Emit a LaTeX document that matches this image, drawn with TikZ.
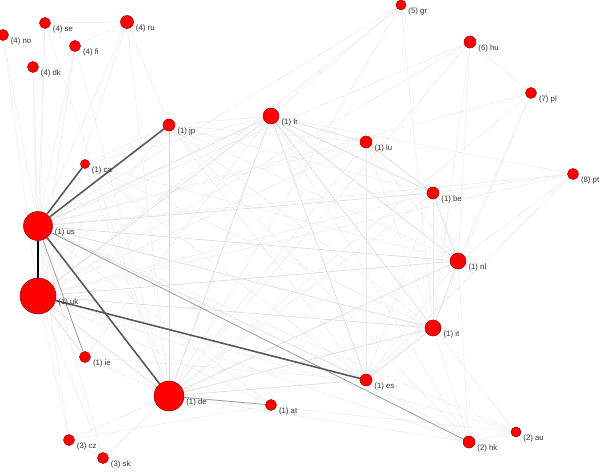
\documentclass[tikz,border=0pt]{standalone}
\usepackage{fontspec}
\setmainfont{Liberation Sans}
\usetikzlibrary{backgrounds}
\definecolor{rimred}{RGB}{150,0,0}
\definecolor{dotred}{RGB}{255,0,0}

\begin{document}
\begin{tikzpicture}[x=1pt,y=-1pt,
    cty/.style={circle,draw=rimred,line width=0.5pt,fill=dotred,inner sep=0pt},
    lbl/.style={font=\fontsize{7.8}{8}\selectfont,text=black!80,inner sep=1pt,yshift=-6pt},
    faint/.style={draw=black!8,line width=0.5pt},
    weak/.style={draw=black!17,line width=0.5pt},
    mid/.style={draw=black!38,line width=0.8pt},
    strong/.style={draw=black!65,line width=1.6pt},
    heavy/.style={draw=black,line width=1.7pt}]
            \useasboundingbox (0,0) rectangle (604,473);
            \begin{scope}[every node/.append style={cty}]
                \node[minimum size=11pt,label={[lbl]east:(4) no}] (no) at (3,35) {};
                \node[minimum size=11pt,label={[lbl]east:(4) se}] (se) at (45,23) {};
                \node[minimum size=11pt,label={[lbl]east:(4) fi}] (fi) at (75,46) {};
                \node[minimum size=13pt,label={[lbl]east:(4) ru}] (ru) at (127,22) {};
                \node[minimum size=11pt,label={[lbl]east:(4) dk}] (dk) at (33,67) {};
                \node[minimum size=12pt,label={[lbl]east:(1) jp}] (jp) at (169,125) {};
                \node[minimum size=9pt,label={[lbl]east:(1) ca}] (ca) at (85,164) {};
                \node[minimum size=29pt,label={[lbl]east:(1) us}] (us) at (38,226) {};
                \node[minimum size=36pt,label={[lbl]east:(1) uk}] (uk) at (38,296) {};
                \node[minimum size=11pt,label={[lbl]east:(1) ie}] (ie) at (85,357) {};
                \node[minimum size=30pt,label={[lbl]east:(1) de}] (de) at (169,396) {};
                \node[minimum size=11pt,label={[lbl]east:(1) at}] (at) at (271,405) {};
                \node[minimum size=11pt,label={[lbl]east:(3) cz}] (cz) at (69,440) {};
                \node[minimum size=11pt,label={[lbl]east:(3) sk}] (sk) at (103,458) {};
                \node[minimum size=10pt,label={[lbl]east:(5) gr}] (gr) at (401,5) {};
                \node[minimum size=12pt,label={[lbl]east:(6) hu}] (hu) at (470,42) {};
                \node[minimum size=11pt,label={[lbl]east:(7) pl}] (pl) at (531,93) {};
                \node[minimum size=16pt,label={[lbl]east:(1) fr}] (fr) at (271,116) {};
                \node[minimum size=12pt,label={[lbl]east:(1) lu}] (lu) at (366,142) {};
                \node[minimum size=11pt,label={[lbl]east:(8) pt}] (pt) at (573,174) {};
                \node[minimum size=12pt,label={[lbl]east:(1) be}] (be) at (433,193) {};
                \node[minimum size=16pt,label={[lbl]east:(1) nl}] (nl) at (458,261) {};
                \node[minimum size=16pt,label={[lbl]east:(1) it}] (it) at (433,328) {};
                \node[minimum size=12pt,label={[lbl]east:(1) es}] (es) at (366,380) {};
                \node[minimum size=12pt,label={[lbl]east:(2) hk}] (hk) at (469,442) {};
                \node[minimum size=10pt,label={[lbl]east:(2) au}] (au) at (516,432) {};
            \end{scope}
            \begin{scope}[on background layer]
            % light links
            \draw (us) edge[weak] (fr) edge[weak] (nl) edge[weak] (it) edge[weak] (be) edge[weak] (es) edge[faint] (lu) edge[faint] (at);
            \draw (us) edge[faint] (no) edge[faint] (se) edge[faint] (dk) edge[faint] (fi) edge[faint] (ru) edge[faint] (gr) edge[faint] (hu);
            \draw (us) edge[faint] (pl) edge[faint] (cz) edge[faint] (sk) edge[faint] (au) edge[faint] (pt);
            \draw (uk) edge[weak] (fr) edge[weak] (nl) edge[weak] (it) edge[weak] (de) edge[weak] (ie) edge[faint] (be) edge[faint] (lu);
            \draw (uk) edge[faint] (jp) edge[faint] (ca) edge[faint] (at) edge[faint] (hk) edge[faint] (au) edge[faint] (no) edge[faint] (se);
            \draw (uk) edge[faint] (dk) edge[faint] (ru) edge[faint] (fi) edge[faint] (cz) edge[faint] (sk) edge[faint] (gr) edge[faint] (hu) edge[faint] (pt);
            \draw (de) edge[weak] (fr) edge[weak] (nl) edge[weak] (it) edge[weak] (jp) edge[weak] (es) edge[faint] (be) edge[faint] (lu);
            \draw (de) edge[faint] (ca) edge[faint] (cz) edge[faint] (sk) edge[faint] (ie) edge[faint] (hu) edge[faint] (pl) edge[faint] (ru);
            \draw (de) edge[faint] (gr) edge[faint] (hk) edge[faint] (au) edge[faint] (fi) edge[faint] (se);
            \draw (fr) edge[weak] (nl) edge[weak] (it) edge[weak] (be) edge[weak] (lu) edge[weak] (es) edge[faint] (jp) edge[faint] (ca);
            \draw (fr) edge[faint] (hk) edge[faint] (gr) edge[faint] (ie) edge[faint] (pt);
            \draw (nl) edge[weak] (be) edge[weak] (it) edge[faint] (lu) edge[faint] (es) edge[faint] (ca) edge[faint] (jp);
            \draw (nl) edge[faint] (pt) edge[faint] (hu) edge[faint] (pl) edge[faint] (hk);
            \draw (it) edge[weak] (es) edge[faint] (be) edge[faint] (lu) edge[faint] (gr) edge[faint] (hk) edge[faint] (hu);
            \draw (it) edge[faint] (jp) edge[faint] (ca) edge[faint] (pl) edge[faint] (au);
            \draw (be) edge[weak] (lu) edge[faint] (es) edge[faint] (pt) edge[faint] (jp);
            \draw (jp) edge[faint] (ca) edge[faint] (lu) edge[faint] (es) edge[faint] (hk) edge[faint] (ru);
            \draw (es) edge[faint] (hk) edge[faint] (pt) edge[faint] (lu) edge[faint] (ca) edge[faint] (ie);
            \draw (ru) edge[faint] (fi) edge[faint] (se);
            \draw (cz) edge[faint] (sk) edge[faint] (at);
            \draw (pl) edge[faint] (hu);
            \draw (hk) edge[faint] (au);
            % strong links
            \draw (us) edge[mid] (ie) edge[mid] (hk);
            \draw (de) edge[mid] (at);
            \draw (us) edge[strong] (jp) edge[strong] (ca) edge[strong] (de);
            \draw (uk) edge[strong] (es);
            \draw (us) edge[heavy] (uk);
            \end{scope}
        \end{tikzpicture}
\end{document}
